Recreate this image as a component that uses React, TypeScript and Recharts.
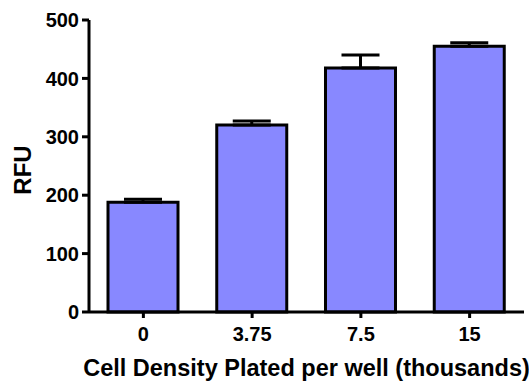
import React from 'react';
import { BarChart, Bar, XAxis, YAxis, ErrorBar, Label } from 'recharts';

const categories = ['0', '3.75', '7.5', '15'];
const rfuValues = [188, 320, 418, 455];
const rfuErrorUp = [5, 7, 22, 6];
const yTicks = [0, 100, 200, 300, 400, 500];

const data = categories.map((c, i) => ({
  name: c,
  rfu: rfuValues[i],
  err: [0, rfuErrorUp[i]],
}));

const FONT = '"Liberation Sans", Arial, Helvetica, sans-serif';

export default function App() {
  return (
    <div style={{ position: 'absolute', left: 0, top: 0 }}>
      <BarChart
        width={529}
        height={381}
        data={data}
        margin={{ top: 20, right: 5, left: 0, bottom: 0 }}
        barCategoryGap={0}
        style={{ overflow: 'visible' }}
      >
        <XAxis
          dataKey="name"
          height={69}
          axisLine={{ stroke: '#000', strokeWidth: 3 }}
          tickLine={{ stroke: '#000', strokeWidth: 3 }}
          tickSize={6}
          tickMargin={9}
          tick={{ fill: '#000', fontSize: 20, fontWeight: 'bold', fontFamily: FONT }}
          interval={0}
        >
          <Label
            value="Cell Density Plated per well (thousands)"
            position="insideBottom"
            offset={5}
            style={{ fill: '#000', fontSize: 23.5, fontWeight: 'bold', fontFamily: FONT }}
          />
        </XAxis>
        <YAxis
          width={89}
          domain={[0, 500]}
          ticks={yTicks}
          interval={0}
          axisLine={{ stroke: '#000', strokeWidth: 3 }}
          tickLine={{ stroke: '#000', strokeWidth: 3 }}
          tickSize={7}
          tickMargin={3}
          tick={{ fill: '#000', fontSize: 20, fontWeight: 'bold', fontFamily: FONT }}
        >
          <Label
            content={(props: any) => {
              const vb = props.viewBox || { x: 0, y: 0, width: 0, height: 0 };
              const cx = vb.x + 22;
              const cy = vb.y + vb.height / 2 + 4;
              return (
                <text
                  x={cx}
                  y={cy}
                  transform={`rotate(-90, ${cx}, ${cy})`}
                  textAnchor="middle"
                  dominantBaseline="central"
                  style={{ fill: '#000', fontSize: 24, fontWeight: 'bold', fontFamily: FONT }}
                >
                  RFU
                </text>
              );
            }}
          />
        </YAxis>
        <Bar
          dataKey="rfu"
          fill="#8888ff"
          stroke="#000"
          strokeWidth={3}
          barSize={70}
          isAnimationActive={false}
        >
          <ErrorBar dataKey="err" width={19} stroke="#000" strokeWidth={3} direction="y" />
        </Bar>
      </BarChart>
    </div>
  );
}
